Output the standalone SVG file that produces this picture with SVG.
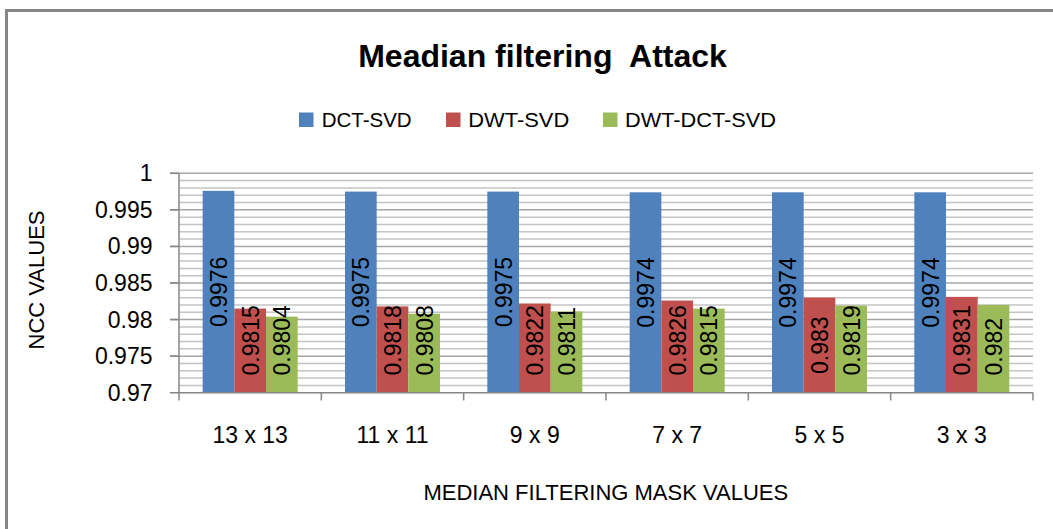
<svg xmlns="http://www.w3.org/2000/svg" width="1053" height="529" viewBox="0 0 1053 529">
<style>
text{font-family:"Liberation Sans",Arial,sans-serif;fill:#000}
.title{font-size:32px;font-weight:bold}
.leg{font-size:20.5px}
.tick{font-size:23px}
.ax{font-size:22px}
.dl{font-size:23px}
.minor{stroke:#c4c4c4;stroke-width:1.5}
.major{stroke:#a6a6a6;stroke-width:1.5}
.axis{stroke:#868686;stroke-width:1.5;fill:none}
.b{fill:#4F81BD}.r{fill:#C0504D}.g{fill:#9BBB59}
</style>
<rect x="6.5" y="10.5" width="1070" height="560" fill="#fff" stroke="#868686" stroke-width="3"/>
<g id="title"><text class="title" x="542.5" y="66.7" text-anchor="middle" xml:space="preserve">Meadian filtering  Attack</text></g>
<g id="legend">
<rect class="b" x="299" y="112.5" width="14.5" height="14.5"/><text class="leg" x="321.7" y="127.3">DCT-SVD</text>
<rect class="r" x="446" y="112.5" width="14.5" height="14.5"/><text class="leg" x="468.3" y="127.3" textLength="101" lengthAdjust="spacingAndGlyphs">DWT-SVD</text>
<rect class="g" x="603" y="112.5" width="14.5" height="14.5"/><text class="leg" x="625" y="127.3" textLength="151" lengthAdjust="spacingAndGlyphs">DWT-DCT-SVD</text>
</g>
<g id="grid">
<line class="minor" x1="179" x2="1033" y1="180.61" y2="180.61"/>
<line class="minor" x1="179" x2="1033" y1="187.93" y2="187.93"/>
<line class="minor" x1="179" x2="1033" y1="195.24" y2="195.24"/>
<line class="minor" x1="179" x2="1033" y1="202.55" y2="202.55"/>
<line class="minor" x1="179" x2="1033" y1="217.18" y2="217.18"/>
<line class="minor" x1="179" x2="1033" y1="224.49" y2="224.49"/>
<line class="minor" x1="179" x2="1033" y1="231.81" y2="231.81"/>
<line class="minor" x1="179" x2="1033" y1="239.12" y2="239.12"/>
<line class="minor" x1="179" x2="1033" y1="253.75" y2="253.75"/>
<line class="minor" x1="179" x2="1033" y1="261.06" y2="261.06"/>
<line class="minor" x1="179" x2="1033" y1="268.38" y2="268.38"/>
<line class="minor" x1="179" x2="1033" y1="275.69" y2="275.69"/>
<line class="minor" x1="179" x2="1033" y1="290.32" y2="290.32"/>
<line class="minor" x1="179" x2="1033" y1="297.63" y2="297.63"/>
<line class="minor" x1="179" x2="1033" y1="304.95" y2="304.95"/>
<line class="minor" x1="179" x2="1033" y1="312.26" y2="312.26"/>
<line class="minor" x1="179" x2="1033" y1="326.89" y2="326.89"/>
<line class="minor" x1="179" x2="1033" y1="334.2" y2="334.2"/>
<line class="minor" x1="179" x2="1033" y1="341.52" y2="341.52"/>
<line class="minor" x1="179" x2="1033" y1="348.83" y2="348.83"/>
<line class="minor" x1="179" x2="1033" y1="363.46" y2="363.46"/>
<line class="minor" x1="179" x2="1033" y1="370.77" y2="370.77"/>
<line class="minor" x1="179" x2="1033" y1="378.09" y2="378.09"/>
<line class="minor" x1="179" x2="1033" y1="385.4" y2="385.4"/>
<line class="major" x1="170" x2="1033" y1="173.3" y2="173.3"/>
<line class="major" x1="170" x2="1033" y1="209.87" y2="209.87"/>
<line class="major" x1="170" x2="1033" y1="246.43" y2="246.43"/>
<line class="major" x1="170" x2="1033" y1="283" y2="283"/>
<line class="major" x1="170" x2="1033" y1="319.57" y2="319.57"/>
<line class="major" x1="170" x2="1033" y1="356.13" y2="356.13"/>
</g>
<g id="ylabels" class="tick" text-anchor="end">
<text class="tick" x="152.5" y="181.3">1</text>
<text class="tick" x="152.5" y="217.9">0.995</text>
<text class="tick" x="152.5" y="254.4">0.99</text>
<text class="tick" x="152.5" y="291">0.985</text>
<text class="tick" x="152.5" y="327.6">0.98</text>
<text class="tick" x="152.5" y="364.1">0.975</text>
<text class="tick" x="152.5" y="400.7">0.97</text>
</g>
<g id="bars">
<rect class="b" x="202.67" y="190.85" width="31.67" height="201.85"/>
<rect class="r" x="234.33" y="308.6" width="31.67" height="84.1"/>
<rect class="g" x="266" y="316.64" width="31.67" height="76.06"/>
<rect class="b" x="345" y="191.58" width="31.67" height="201.12"/>
<rect class="r" x="376.67" y="306.4" width="31.67" height="86.3"/>
<rect class="g" x="408.33" y="313.72" width="31.67" height="78.98"/>
<rect class="b" x="487.33" y="191.58" width="31.67" height="201.12"/>
<rect class="r" x="519" y="303.48" width="31.67" height="89.22"/>
<rect class="g" x="550.67" y="311.52" width="31.67" height="81.18"/>
<rect class="b" x="629.67" y="192.31" width="31.67" height="200.39"/>
<rect class="r" x="661.33" y="300.55" width="31.67" height="92.15"/>
<rect class="g" x="693" y="308.6" width="31.67" height="84.1"/>
<rect class="b" x="772" y="192.31" width="31.67" height="200.39"/>
<rect class="r" x="803.67" y="297.62" width="31.67" height="95.08"/>
<rect class="g" x="835.33" y="305.67" width="31.67" height="87.03"/>
<rect class="b" x="914.33" y="192.31" width="31.67" height="200.39"/>
<rect class="r" x="946" y="296.89" width="31.67" height="95.81"/>
<rect class="g" x="977.67" y="304.94" width="31.67" height="87.76"/>
</g>
<g id="axes">
<line class="axis" x1="179" y1="173.3" x2="179" y2="392.7"/>
<line class="axis" x1="170" y1="173.3" x2="179" y2="173.3"/>
<line class="axis" x1="170" y1="209.87" x2="179" y2="209.87"/>
<line class="axis" x1="170" y1="246.43" x2="179" y2="246.43"/>
<line class="axis" x1="170" y1="283" x2="179" y2="283"/>
<line class="axis" x1="170" y1="319.57" x2="179" y2="319.57"/>
<line class="axis" x1="170" y1="356.13" x2="179" y2="356.13"/>
<line class="axis" x1="170" y1="392.7" x2="1033" y2="392.7"/>
<line class="axis" x1="179" y1="392.7" x2="179" y2="400.5"/>
<line class="axis" x1="321.33" y1="392.7" x2="321.33" y2="400.5"/>
<line class="axis" x1="463.67" y1="392.7" x2="463.67" y2="400.5"/>
<line class="axis" x1="606" y1="392.7" x2="606" y2="400.5"/>
<line class="axis" x1="748.33" y1="392.7" x2="748.33" y2="400.5"/>
<line class="axis" x1="890.67" y1="392.7" x2="890.67" y2="400.5"/>
<line class="axis" x1="1033" y1="392.7" x2="1033" y2="400.5"/>
</g>
<g id="datalabels" class="dl">
<text class="dl" text-anchor="middle" transform="translate(226.8,291.8) rotate(-90)">0.9976</text>
<text class="dl" transform="translate(258.5,375.5) rotate(-90)">0.9815</text>
<text class="dl" transform="translate(290.2,375.5) rotate(-90)">0.9804</text>
<text class="dl" text-anchor="middle" transform="translate(369.1,292.1) rotate(-90)">0.9975</text>
<text class="dl" transform="translate(400.8,375.5) rotate(-90)">0.9818</text>
<text class="dl" transform="translate(432.5,375.5) rotate(-90)">0.9808</text>
<text class="dl" text-anchor="middle" transform="translate(511.5,292.1) rotate(-90)">0.9975</text>
<text class="dl" transform="translate(543.2,375.5) rotate(-90)">0.9822</text>
<text class="dl" transform="translate(574.8,375.5) rotate(-90)">0.9811</text>
<text class="dl" text-anchor="middle" transform="translate(653.8,292.5) rotate(-90)">0.9974</text>
<text class="dl" transform="translate(685.5,375.5) rotate(-90)">0.9826</text>
<text class="dl" transform="translate(717.2,375.5) rotate(-90)">0.9815</text>
<text class="dl" text-anchor="middle" transform="translate(796.2,292.5) rotate(-90)">0.9974</text>
<text class="dl" text-anchor="middle" transform="translate(827.8,345.2) rotate(-90)">0.983</text>
<text class="dl" transform="translate(859.5,375.5) rotate(-90)">0.9819</text>
<text class="dl" text-anchor="middle" transform="translate(938.5,292.5) rotate(-90)">0.9974</text>
<text class="dl" transform="translate(970.2,375.5) rotate(-90)">0.9831</text>
<text class="dl" transform="translate(1001.8,375.5) rotate(-90)">0.982</text>
</g>
<g id="xlabels" text-anchor="middle">
<text class="tick" x="250.2" y="443.3">13 x 13</text>
<text class="tick" x="392.5" y="443.3">11 x 11</text>
<text class="tick" x="534.8" y="443.3">9 x 9</text>
<text class="tick" x="677.2" y="443.3">7 x 7</text>
<text class="tick" x="819.5" y="443.3">5 x 5</text>
<text class="tick" x="961.8" y="443.3">3 x 3</text>
</g>
<g id="axis-titles">
<text class="ax" x="605.8" y="500" text-anchor="middle">MEDIAN FILTERING MASK VALUES</text>
<text class="ax" text-anchor="middle" transform="translate(43.5,280) rotate(-90)">NCC VALUES</text>
</g>
</svg>
